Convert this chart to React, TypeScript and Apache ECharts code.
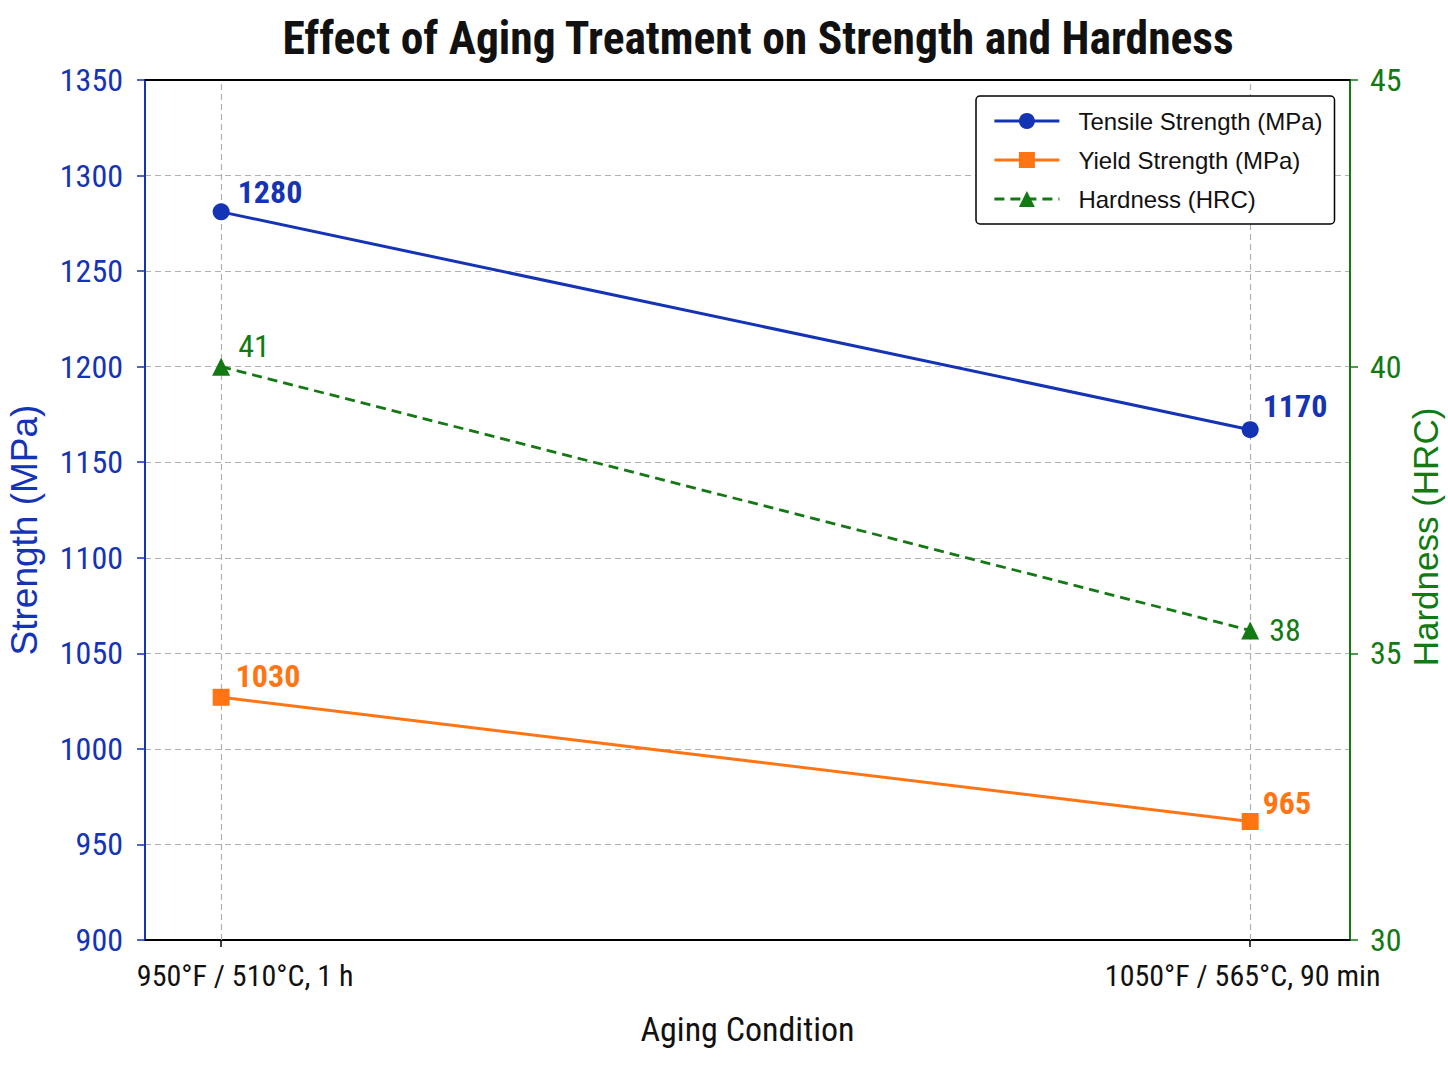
import React, { useEffect, useRef } from "react";
import * as echarts from "echarts";

// ---- data ----
const categories = ["950°F / 510°C, 1 h", "1050°F / 565°C, 90 min"];
const categoryX = [0, 1];
const tensileValues = [1281, 1167];
const tensileLabels = ["1280", "1170"];
const yieldValues = [1027, 962];
const yieldLabels = ["1030", "965"];
const hardnessValues = [40, 35.4];
const hardnessLabels = ["41", "38"];
const seriesNames = ["Tensile Strength (MPa)", "Yield Strength (MPa)", "Hardness (HRC)"];
const strengthMin = 900;
const strengthMax = 1350;
const strengthStep = 50;
const hardnessMin = 30;
const hardnessMax = 45;
const hardnessStep = 5;

// ---- style ----
const BLUE = "#1533b5";
const ORANGE = "#ff7514";
const GREEN = "#137a13";
const GRID = "#b0b0b0";
const NARROW = '"Liberation Sans Narrow", "Arial Narrow", "Roboto Condensed", sans-serif';
const REG = '"Liberation Sans", Arial, Helvetica, sans-serif';
const tensileOffsets = [[3, -20], [-1, -24]];
const yieldOffsets = [[1, -21], [-1, -19]];
const hardnessOffsets = [[3, -21], [5, 0]];
const xLabelStyleKeys = ["a", "b"];

function points(values: number[], offsets: number[][]) {
  return values.map((v, i) => ({
    value: [categoryX[i], v],
    label: { offset: offsets[i] },
  }));
}

export default function App() {
  const ref = useRef<HTMLDivElement>(null);
  useEffect(() => {
    document.body.style.margin = "0";
    const chart = echarts.init(ref.current!, null, { renderer: "svg" });
    const labelFmt = (labels: string[]) => (p: any) => labels[p.dataIndex];
    const xRich = {
      fontFamily: NARROW,
      fontSize: 30,
      color: "#111111",
    };
    chart.setOption({
      animation: false,
      backgroundColor: "#ffffff",
      title: {
        text: "Effect of Aging Treatment on Strength and Hardness",
        left: 753,
        textAlign: "center",
        top: 10,
        textStyle: { fontFamily: NARROW, fontWeight: "bold", fontSize: 45.5, color: "#111111" },
      },
      legend: {
        data: seriesNames,
        orient: "vertical",
        left: 976,
        top: 96,
        padding: [12, 12, 12, 17],
        itemGap: 13,
        itemWidth: 65,
        itemHeight: 20,
        borderColor: "#000000",
        borderWidth: 1.5,
        borderRadius: 4,
        backgroundColor: "#ffffff",
        lineStyle: { width: 2.8 },
        textStyle: {
          fontFamily: REG,
          fontSize: 24,
          color: "#111111",
          lineHeight: 26,
          padding: [0, 0, 0, 14],
        },
      },
      grid: { left: 145, right: 98, top: 80, bottom: 146, containLabel: false, outerBoundsMode: "none" },
      xAxis: [
        {
          type: "value",
          min: -0.074,
          max: 1.097,
          name: "Aging Condition",
          nameLocation: "middle",
          nameGap: 72,
          nameTextStyle: { fontFamily: NARROW, fontSize: 34, color: "#111111" },
          axisLine: { show: true, onZero: false, lineStyle: { color: "#000000", width: 2 } },
          axisTick: { show: true, customValues: categoryX, length: 7, lineStyle: { color: "#000000", width: 1.5 } },
          axisLabel: {
            customValues: categoryX,
            formatter: (v: number) => {
              const i = Math.round(v);
              return "{" + xLabelStyleKeys[i] + "|" + categories[i] + "}";
            },
            fontFamily: NARROW,
            fontSize: 30,
            color: "#111111",
            margin: 20,
            rich: {
              a: { ...xRich, padding: [0, 0, 0, 48] },
              b: { ...xRich, padding: [0, 15, 0, 0] },
            },
          },
          splitLine: { show: false },
        },
        {
          type: "value",
          position: "top",
          min: -0.074,
          max: 1.097,
          axisLine: { show: true, onZero: false, lineStyle: { color: "#000000", width: 2 } },
          axisTick: { show: false },
          axisLabel: { show: false },
          splitLine: { show: false },
        },
      ],
      yAxis: [
        {
          type: "value",
          min: strengthMin,
          max: strengthMax,
          interval: strengthStep,
          name: "Strength (MPa)",
          nameLocation: "middle",
          nameRotate: 90,
          nameGap: 102,
          nameTextStyle: { fontFamily: REG, fontSize: 37, color: BLUE, padding: [0, 40, 0, 0] },
          axisLine: { show: true, onZero: false, lineStyle: { color: BLUE, width: 2 } },
          axisTick: { show: true, length: 8, lineStyle: { color: BLUE, width: 1.5 } },
          axisLabel: { fontFamily: NARROW, fontSize: 32, color: BLUE, margin: 22, formatter: (v: number) => String(v) },
          splitLine: { show: true, lineStyle: { color: GRID, width: 1.2, type: [6, 4] } },
        },
        {
          type: "value",
          position: "right",
          min: hardnessMin,
          max: hardnessMax,
          interval: hardnessStep,
          name: "Hardness (HRC)",
          nameLocation: "middle",
          nameRotate: 90,
          nameGap: 58,
          nameMoveOverlap: false,
          nameTextStyle: { fontFamily: REG, fontSize: 35, color: GREEN, padding: [0, 54, 0, 0] },
          axisLine: { show: true, onZero: false, lineStyle: { color: GREEN, width: 2 } },
          axisTick: { show: true, length: 8, lineStyle: { color: GREEN, width: 1.5 } },
          axisLabel: { fontFamily: NARROW, fontSize: 32, color: GREEN, margin: 20, formatter: (v: number) => String(v) },
          splitLine: { show: false },
        },
      ],
      series: [
        {
          name: seriesNames[0],
          type: "line",
          yAxisIndex: 0,
          data: points(tensileValues, tensileOffsets),
          symbol: "circle",
          symbolSize: 17,
          z: 3,
          lineStyle: { color: BLUE, width: 3 },
          itemStyle: { color: BLUE },
          label: {
            show: true,
            position: "right",
            distance: 5,
            formatter: labelFmt(tensileLabels),
            fontFamily: NARROW,
            fontWeight: "bold",
            fontSize: 32,
            color: BLUE,
          },
          markLine: {
            silent: true,
            symbol: "none",
            label: { show: false },
            lineStyle: { color: GRID, width: 1.2, type: [6, 4] },
            data: categoryX.map((x) => ({ xAxis: x })),
            z: 1,
          },
        },
        {
          name: seriesNames[1],
          type: "line",
          yAxisIndex: 0,
          data: points(yieldValues, yieldOffsets),
          symbol: "rect",
          symbolSize: 17,
          z: 3,
          lineStyle: { color: ORANGE, width: 3 },
          itemStyle: { color: ORANGE },
          label: {
            show: true,
            position: "right",
            distance: 5,
            formatter: labelFmt(yieldLabels),
            fontFamily: NARROW,
            fontWeight: "bold",
            fontSize: 32,
            color: ORANGE,
          },
        },
        {
          name: seriesNames[2],
          type: "line",
          yAxisIndex: 1,
          data: points(hardnessValues, hardnessOffsets),
          symbol: "triangle",
          symbolSize: 18,
          z: 3,
          lineStyle: { color: GREEN, width: 2.8, type: [10, 6] },
          itemStyle: { color: GREEN },
          label: {
            show: true,
            position: "right",
            distance: 5,
            formatter: labelFmt(hardnessLabels),
            fontFamily: NARROW,
            fontSize: 32,
            color: GREEN,
          },
        },
      ],
    });
    return () => chart.dispose();
  }, []);
  return <div ref={ref} style={{ width: 1448, height: 1086 }} />;
}
